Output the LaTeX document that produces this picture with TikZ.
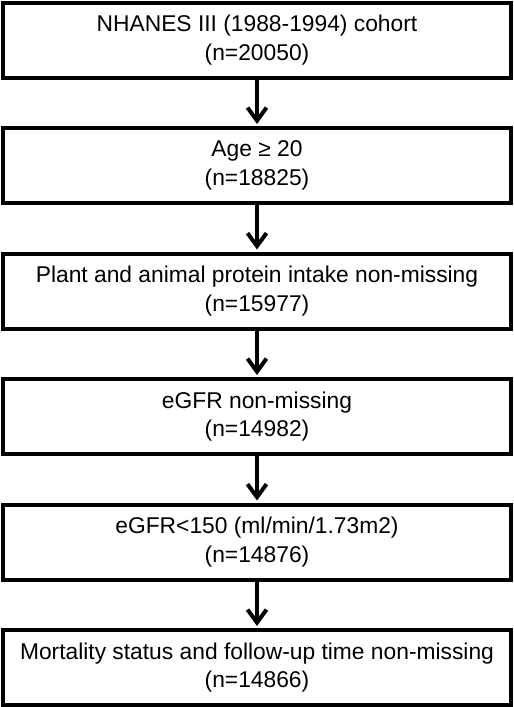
\documentclass[tikz,border=0pt]{standalone}
\usepackage{fontspec}
\setmainfont{Liberation Sans}
\usetikzlibrary{arrows.meta}
\tikzset{
  flowbox/.style={draw=black, line width=4pt, minimum width=508pt, minimum height=75pt,
    inner sep=0pt, align=center, font=\fontsize{22.8pt}{28.6pt}\selectfont},
  flowarrow/.style={line width=4pt, -{Straight Barb[length=13pt, width=19pt]}}
}
\begin{document}
\begin{tikzpicture}[x=1pt,y=1pt]
\useasboundingbox (0,0) rectangle (514,-707);
\node[flowbox] (b1) at (257,-40) {NHANES III (1988-1994) cohort\\(n=20050)};
\node[flowbox] (b2) at (257,-165.5) {Age ≥ 20\\(n=18825)};
\node[flowbox] (b3) at (257,-291) {Plant and animal protein intake non-missing\\(n=15977)};
\node[flowbox] (b4) at (257,-416.5) {eGFR non-missing\\(n=14982)};
\node[flowbox] (b5) at (257,-542) {eGFR<150 (ml/min/1.73m2)\\(n=14876)};
\node[flowbox] (b6) at (257,-667.5) {Mortality status and follow-up time non-missing\\(n=14866)};
\draw[flowarrow] (b1.south) -- ([yshift=2pt]b2.north);
\draw[flowarrow] (b2.south) -- ([yshift=2pt]b3.north);
\draw[flowarrow] (b3.south) -- ([yshift=2pt]b4.north);
\draw[flowarrow] (b4.south) -- ([yshift=2pt]b5.north);
\draw[flowarrow] (b5.south) -- ([yshift=2pt]b6.north);
\end{tikzpicture}
\end{document}
